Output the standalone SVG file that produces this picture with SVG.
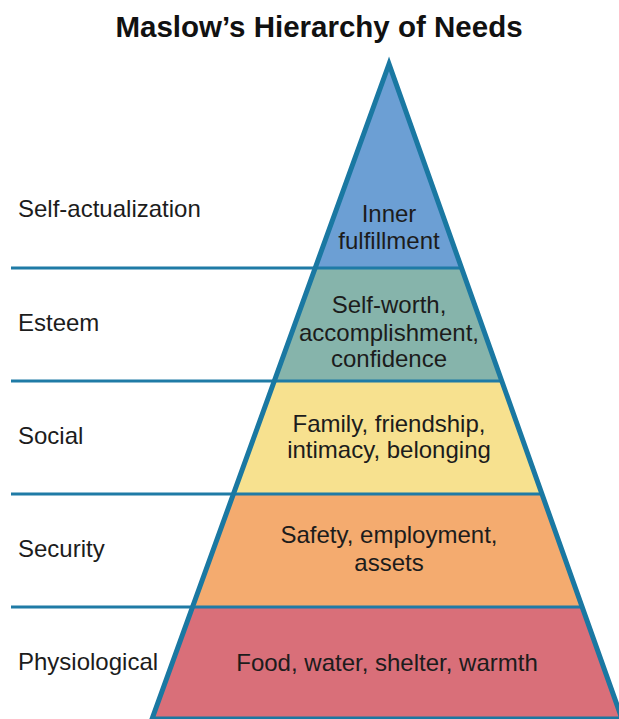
<svg xmlns="http://www.w3.org/2000/svg" width="619" height="719" viewBox="0 0 619 719">
  <style>
    .t { font-family: "Liberation Sans", Arial, sans-serif; font-size: 24px; fill: #1c1c1c; }
    .c { text-anchor: middle; }
    .title { font-family: "Liberation Sans", Arial, sans-serif; font-size: 29.5px; font-weight: bold; fill: #111; text-anchor: middle; }
    .div { stroke: #1f7ba6; stroke-width: 3; fill: none; }
    .edge { stroke: #1a78a2; stroke-width: 5; fill: none; stroke-linejoin: miter; stroke-miterlimit: 10; }
  </style>
  <defs>
    <clipPath id="pyr">
      <polygon points="389,64 152,719 622,719"/>
    </clipPath>
  </defs>
  <rect x="0" y="0" width="619" height="719" fill="#ffffff"/>
  <text class="title" x="319" y="37">Maslow’s Hierarchy of Needs</text>

  <g clip-path="url(#pyr)">
    <g id="self-actualization-band"><rect x="0" y="50" width="640" height="218" fill="#6c9fd4"/></g>
    <g id="esteem-band"><rect x="0" y="268" width="640" height="113" fill="#86b4ab"/></g>
    <g id="social-band"><rect x="0" y="381" width="640" height="113" fill="#f7e18f"/></g>
    <g id="security-band"><rect x="0" y="494" width="640" height="113" fill="#f4ab6f"/></g>
    <g id="physiological-band"><rect x="0" y="607" width="640" height="120" fill="#d96f79"/></g>
  </g>

  <g id="dividers">
    <line class="div" x1="11" y1="268" x2="461.6" y2="268"/>
    <line class="div" x1="11" y1="381" x2="501.8" y2="381"/>
    <line class="div" x1="11" y1="494" x2="542" y2="494"/>
    <line class="div" x1="11" y1="607" x2="582.1" y2="607"/>
  </g>
  <polygon class="edge" points="389,64 152,719 622,719 389,64" />
  <rect x="0" y="719" width="619" height="10" fill="#ffffff"/>

  <g id="self-actualization">
    <text class="t" x="18" y="217">Self-actualization</text>
    <text class="t c" x="389" y="222">Inner</text>
    <text class="t c" x="389" y="249">fulfillment</text>
  </g>
  <g id="esteem">
    <text class="t" x="18" y="331">Esteem</text>
    <text class="t c" x="389" y="313">Self-worth,</text>
    <text class="t c" x="389" y="341">accomplishment,</text>
    <text class="t c" x="389" y="367">confidence</text>
  </g>
  <g id="social">
    <text class="t" x="18" y="444">Social</text>
    <text class="t c" x="389" y="432">Family, friendship,</text>
    <text class="t c" x="389" y="458">intimacy, belonging</text>
  </g>
  <g id="security">
    <text class="t" x="18" y="557">Security</text>
    <text class="t c" x="389" y="543">Safety, employment,</text>
    <text class="t c" x="389" y="571">assets</text>
  </g>
  <g id="physiological">
    <text class="t" x="18" y="670">Physiological</text>
    <text class="t c" x="387" y="671">Food, water, shelter, warmth</text>
  </g>
</svg>
